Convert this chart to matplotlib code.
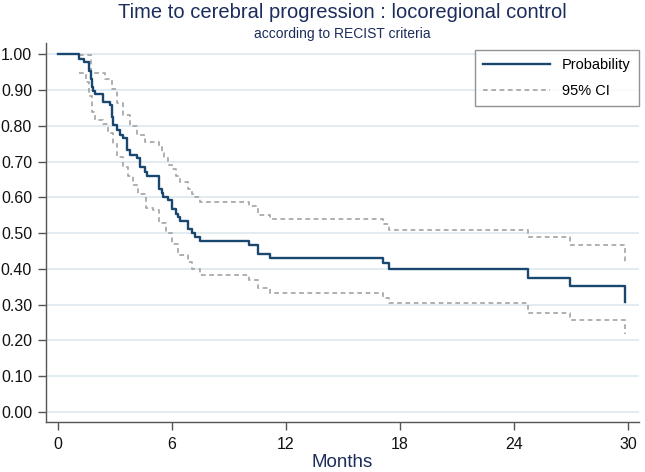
import matplotlib
matplotlib.use("Agg")
import matplotlib.pyplot as plt

# Kaplan-Meier estimate (months, survival)
t_km = [0, 1.11, 1.37, 1.65, 1.72, 1.80, 1.86, 1.95, 2.39, 2.74, 2.82, 2.91,
        3.09, 3.26, 3.44, 3.61, 3.79, 4.14, 4.32, 4.58, 4.70, 5.33, 5.46,
        5.54, 5.81, 5.98, 6.21, 6.33, 6.42, 6.82, 7.04, 7.21, 7.47, 10.05,
        10.54, 11.16, 17.12, 17.44, 24.72, 26.95, 29.83]
s_km = [1.0, 0.988, 0.979, 0.955, 0.93, 0.91, 0.899, 0.890, 0.867, 0.858,
        0.825, 0.802, 0.788, 0.774, 0.765, 0.732, 0.718, 0.709, 0.685, 0.671,
        0.659, 0.625, 0.613, 0.601, 0.592, 0.569, 0.555, 0.546, 0.534, 0.513,
        0.501, 0.490, 0.479, 0.466, 0.443, 0.431, 0.416, 0.399, 0.374, 0.352,
        0.308]

# upper bound of the 95% CI
t_hi = [1.11, 1.72, 2.45, 2.82, 3.09, 3.44, 3.79, 4.14, 4.58, 5.33, 5.46,
        5.60, 5.81, 5.98, 6.21, 6.42, 6.82, 7.04, 7.21, 7.47, 10.05, 10.54,
        11.16, 17.12, 17.44, 24.72, 26.95, 29.83]
s_hi = [0.998, 0.948, 0.932, 0.904, 0.864, 0.83, 0.80, 0.774, 0.755, 0.74,
        0.725, 0.71, 0.69, 0.68, 0.66, 0.643, 0.625, 0.61, 0.60, 0.587, 0.575,
        0.552, 0.541, 0.527, 0.510, 0.490, 0.468, 0.42]

# lower bound of the 95% CI
t_lo = [1.11, 1.45, 1.65, 1.80, 1.95, 2.35, 2.65, 2.88, 3.09, 3.44, 3.70,
        3.93, 4.20, 4.63, 5.00, 5.33, 5.70, 5.98, 6.30, 6.82, 7.04, 7.47,
        10.05, 10.54, 11.16, 17.12, 17.44, 24.72, 26.95, 29.83]
s_lo = [0.948, 0.923, 0.885, 0.839, 0.817, 0.806, 0.78, 0.75, 0.713, 0.685,
        0.66, 0.634, 0.61, 0.57, 0.564, 0.528, 0.50, 0.469, 0.44, 0.42, 0.40,
        0.384, 0.369, 0.346, 0.334, 0.320, 0.304, 0.278, 0.257, 0.218]

x_ticks = [0, 6, 12, 18, 24, 30]
y_ticks = [0.0, 0.1, 0.2, 0.3, 0.4, 0.5, 0.6, 0.7, 0.8, 0.9, 1.0]

navy = "#1a476f"
title_col = "#1c2d5c"
ci_col = "#a9a9a9"

plt.rcParams["font.family"] = ["Liberation Sans", "DejaVu Sans"]

fig = plt.figure(figsize=(6.45, 4.72), dpi=100)
ax = fig.add_axes([46 / 645, 1 - 422 / 472, (639 - 46) / 645, (422 - 43) / 472])

for y in y_ticks:
    ax.axhline(y, color="#dde8ec", lw=1.2, zorder=0)

ax.plot(t_hi, s_hi, drawstyle="steps-post", color=ci_col, lw=1.3,
        linestyle=(0, (2.6, 2.0)), label="95% CI", zorder=2)
ax.plot(t_lo, s_lo, drawstyle="steps-post", color=ci_col, lw=1.3,
        linestyle=(0, (2.6, 2.0)), zorder=2)
ax.plot(t_km, s_km, drawstyle="steps-post", color=navy, lw=1.7,
        label="Probability", zorder=3)

ax.set_xlim(-0.63, 30.58)
ax.set_ylim(-0.028, 1.032)
ax.set_xticks(x_ticks)
ax.set_xticklabels([str(v) for v in x_ticks])
ax.set_yticks(y_ticks)
ax.set_yticklabels(["%.2f" % v for v in y_ticks])
ax.tick_params(axis="both", direction="out", length=6, width=1,
               color="#555555", labelsize=11.5, labelcolor="#111111", pad=4)
ax.tick_params(axis="x", pad=5)

for side in ["top", "right"]:
    ax.spines[side].set_visible(False)
for side in ["left", "bottom"]:
    ax.spines[side].set_color("#555555")
    ax.spines[side].set_linewidth(1)

ax.set_xlabel("Months", fontsize=13.5, color=title_col, labelpad=1)

fig.text(342 / 645, 1 - 12 / 472, "Time to cerebral progression : locoregional control",
         ha="center", va="center", fontsize=14.5, color=title_col)
fig.text(342 / 645, 1 - 34 / 472, "according to RECIST criteria",
         ha="center", va="center", fontsize=10, color=title_col)

handles, labels = ax.get_legend_handles_labels()
leg = ax.legend(handles[::-1], labels[::-1], loc="upper left",
                bbox_to_anchor=(475 / 645, 1 - 50 / 472),
                bbox_transform=fig.transFigure, borderaxespad=0,
                fontsize=10.5, frameon=True, fancybox=False,
                handlelength=4.6, handletextpad=0.8, labelspacing=0.85,
                borderpad=0.55)
leg.get_frame().set_edgecolor("#777777")
leg.get_frame().set_linewidth(1)

fig.savefig("out.png", dpi=100)
